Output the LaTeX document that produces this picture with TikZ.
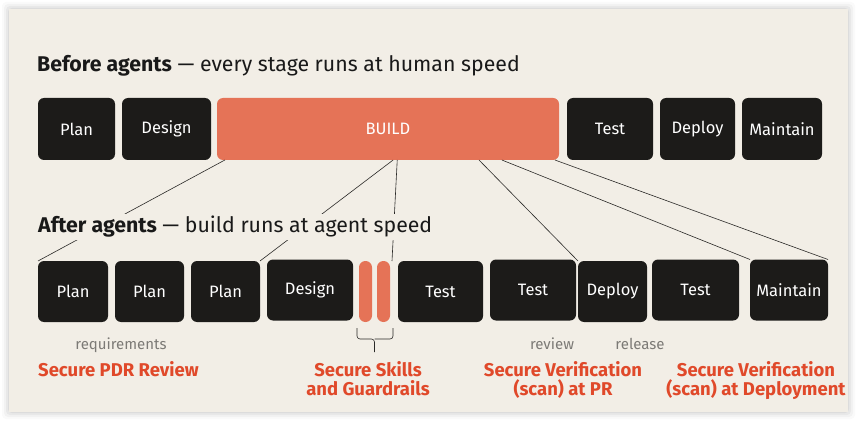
\documentclass[tikz,border=0pt]{standalone}
\usepackage{fontspec}
\setmainfont{Fira Sans}
\usetikzlibrary{positioning, calc}
\definecolor{panel}{HTML}{F2EEE6}
\definecolor{stagedark}{HTML}{1C1B19}
\definecolor{buildorange}{HTML}{E57357}
\definecolor{securered}{HTML}{E0492A}
\definecolor{notegray}{HTML}{7C7A76}
\definecolor{linedark}{HTML}{2A2927}
\tikzset{
  stage/.style={fill=stagedark, rounded corners=6pt, text=white, inner sep=0pt, outer sep=0pt, minimum height=62pt, font=\fontsize{16.5}{19}\selectfont},
  buildbox/.style={stage, fill=buildorange},
  lowstage/.style={stage, minimum height=61pt},
  guardbar/.style={fill=buildorange, rounded corners=6.4pt, inner sep=0pt, outer sep=0pt, minimum width=13pt, minimum height=61pt},
  link/.style={draw=linedark, line width=0.6pt},
  headline/.style={text=black!90, inner sep=0pt, font=\fontsize{21.3}{25}\selectfont},
  note/.style={text=notegray, inner sep=0pt, font=\fontsize{15}{18}\selectfont},
  secure/.style={text=securered, inner sep=0pt, align=center, font=\bfseries\fontsize{18.5}{19}\selectfont}
}

\begin{document}
\begin{tikzpicture}[x=1pt, y=-1pt]

\useasboundingbox (0,0) rectangle (859,422);
\fill[white] (0,0) rectangle (859,422);
\foreach \s/\o in {7/0.02, 5/0.03, 3/0.04, 1/0.05}
  \fill[black, opacity=\o, rounded corners=4pt] (9-\s,9-\s) rectangle (848+\s,412+\s);
\fill[panel] (9,9) rectangle (848,412);

% before agents
\node[headline, anchor=base west] (before) at (37,72) {\textbf{Before agents} — every stage runs at human speed};

\node[stage, minimum width=77pt, anchor=north west] (plan) at (38,98) {Plan};
\node[stage, minimum width=89pt, right=7pt of plan] (design) {Design};
\node[buildbox, minimum width=342pt, right=6pt of design] (build) {BUILD};
\node[stage, minimum width=86pt, right=8pt of build] (test) {Test};
\node[stage, minimum width=75pt, right=7pt of test] (deploy) {Deploy};
\node[stage, minimum width=80pt, right=7pt of deploy] (maintain) {Maintain};

% after agents
\node[lowstage, minimum width=70pt, anchor=north west] (aplan1) at (38,261) {Plan};
\node[lowstage, minimum width=69pt, right=7pt of aplan1] (aplan2) {Plan};
\node[lowstage, minimum width=69pt, right=7pt of aplan2] (aplan3) {Plan};
\node[lowstage, minimum width=86pt, right=7pt of aplan3, yshift=1.5pt] (adesign) {Design};
\node[guardbar, anchor=west] (guard1) at ($(adesign.east |- aplan3.east)+(6,0)$) {};
\node[guardbar, right=5pt of guard1] (guard2) {};
\node[lowstage, minimum width=85pt, right=8pt of guard2] (atest1) {Test};
\node[lowstage, minimum width=86pt, right=7pt of atest1, yshift=1.5pt] (atest2) {Test};
\node[lowstage, minimum width=69pt, anchor=west] (adeploy) at ($(atest2.east |- atest1.east)+(2,0)$) {Deploy};
\node[lowstage, minimum width=87pt, right=5pt of adeploy, yshift=1.5pt] (atest3) {Test};
\node[lowstage, minimum width=78pt, right=11pt of atest3] (amaintain) {Maintain};

% build fans out
\draw[link] ($(build.south west)!0.023!(build.south east)$) -- (aplan1.north west);
\draw[link] ($(build.south west)!0.515!(build.south east)$) -- (aplan3.north east);
\draw[link] ($(build.south west)!0.527!(build.south east)$) -- ($(guard2.north east)!0.25!(atest1.north west)$);
\draw[link] ($(build.south west)!0.766!(build.south east)$) -- (adeploy.north west);
\draw[link] ($(build.south west)!0.833!(build.south east)$) -- (amaintain.north west);
\draw[link] ($(build.south west)!0.988!(build.south east)$) -- (amaintain.north east);

\node[headline, anchor=base west, fill=panel, inner sep=2pt] (after) at (36,233) {\textbf{After agents} — build runs at agent speed};

% brace under the guardrails
\coordinate (tip) at ($(guard1.south east)!0.5!(guard2.south west)+(0,30)$);
\draw[link, rounded corners=3pt] ($(guard1.south west)+(-2,6)$) |- ($(tip)+(0,-13)$) -- (tip);
\draw[link, rounded corners=3pt] ($(guard2.south east)+(3,6)$) |- ($(tip)+(0,-13)$);

\node[note, anchor=base] (req) at (121,349) {requirements};
\node[note, anchor=base] (rev) at (552,349) {review};
\node[note, anchor=base] (rel) at (640,349) {release};

\node[secure, anchor=base west] (pdr) at (38,376) {Secure PDR Review};
\node[secure, anchor=base] (skills) at (368,395) {Secure Skills\\and Guardrails};
\node[secure, anchor=base] (verpr) at (563,395) {Secure Verification\\(scan) at PR};
\node[secure, anchor=base] (verdep) at (756,395) {Secure Verification\\(scan) at Deployment};

\end{tikzpicture}
\end{document}
